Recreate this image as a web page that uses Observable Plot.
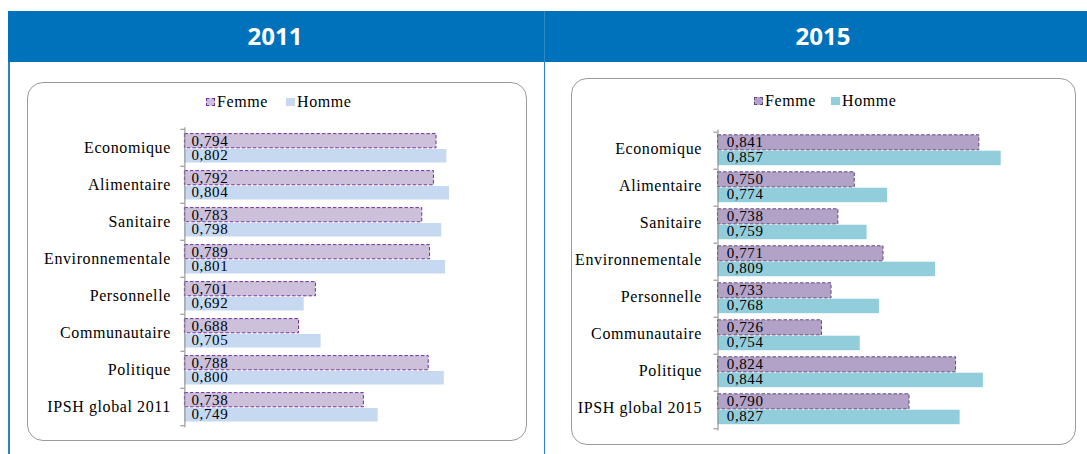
<!DOCTYPE html>
<html>
<head>
<meta charset="utf-8">
<script src="https://cdn.jsdelivr.net/npm/d3@7"></script>
<script src="https://cdn.jsdelivr.net/npm/@observablehq/plot@0.6"></script>
<style>
  html, body { margin: 0; padding: 0; background: #fff; }
  #page { position: relative; width: 1087px; height: 454px; overflow: hidden; background: #fff; }
  .abs { position: absolute; }
  .header { position: absolute; left: 8px; top: 11px; width: 1079px; height: 51px; background: #0071bb; }
  .htitle { position: absolute; top: 10px; height: 51px; line-height: 51px; width: 200px; text-align: center;
            color: #fff; font-family: "Open Sans", sans-serif; font-weight: 700; font-size: 24px; }
  .vline { position: absolute; top: 62px; width: 1.6px; height: 392px; background: #2b82c6; }
  .box { position: absolute; border: 1.2px solid #9a9a9a; border-radius: 16px; box-sizing: border-box; background: #fff; }
  .leg { position: absolute; font-family: "Liberation Serif", serif; font-size: 16px; letter-spacing: 0.6px; color: #000; line-height: 16px; white-space: nowrap; }
  .sw { position: absolute; width: 9px; height: 8px; box-sizing: border-box; }
  .chart { position: absolute; }
</style>
</head>
<body>
<div id="page">
  <div class="header"></div>
  <div class="abs" style="left:544px;top:11px;width:1px;height:51px;background:rgba(255,255,255,0.18)"></div>
  <div class="htitle" style="left:175px">2011</div>
  <div class="htitle" style="left:723px">2015</div>
  <div class="vline" style="left:8px"></div>
  <div class="vline" style="left:543.5px"></div>
  <div class="box" style="left:27px;top:82px;width:500px;height:359px"></div>
  <div class="box" style="left:571px;top:78px;width:505px;height:367px"></div>

  <div class="sw" style="left:206px;top:98px;background:#ccc0da;border:1px dashed #7030a0"></div>
  <div class="leg" style="left:217px;top:94px">Femme</div>
  <div class="sw" style="left:286px;top:98px;background:#c6d9f1"></div>
  <div class="leg" style="left:297px;top:94px">Homme</div>

  <div class="sw" style="left:754px;top:97px;background:#b3a2c7;border:1px dashed #604a7b"></div>
  <div class="leg" style="left:765px;top:93px">Femme</div>
  <div class="sw" style="left:831px;top:97px;background:#92cddc"></div>
  <div class="leg" style="left:842px;top:93px">Homme</div>

  <div id="c2011" class="chart"></div>
  <div id="c2015" class="chart"></div>
</div>
<script>
// ---- Data ----
const categories2011 = ["Economique", "Alimentaire", "Sanitaire", "Environnementale", "Personnelle", "Communautaire", "Politique", "IPSH global 2011"];
const femme2011 = [0.794, 0.792, 0.783, 0.789, 0.701, 0.688, 0.788, 0.738];
const homme2011 = [0.802, 0.804, 0.798, 0.801, 0.692, 0.705, 0.800, 0.749];

const categories2015 = ["Economique", "Alimentaire", "Sanitaire", "Environnementale", "Personnelle", "Communautaire", "Politique", "IPSH global 2015"];
const femme2015 = [0.841, 0.750, 0.738, 0.771, 0.733, 0.726, 0.824, 0.790];
const homme2015 = [0.857, 0.774, 0.759, 0.809, 0.768, 0.754, 0.844, 0.827];

const xDomain2011 = [0.6, 0.82];
const xDomain2015 = [0.65, 0.9];

const fmt = v => v.toFixed(3).replace(".", ",");
const FONT = "'Liberation Serif', 'Times New Roman', serif";

function drawChart(el, cats, femme, homme, xDomain, L) {
  const table = cats.map((c, i) => ({cat: c, femme: femme[i], homme: homme[i]}));
  const bw = (L.yBottom - L.yTop) / cats.length;
  const ppu = (L.xEnd - L.axisX) / (xDomain[1] - xDomain[0]);
  const xmin = xDomain[0];
  const tickLen = 4 / ppu;
  const svg = Plot.plot({
    width: L.svgWidth,
    height: L.svgHeight,
    marginLeft: L.axisX - L.svgLeft,
    marginRight: L.svgLeft + L.svgWidth - L.xEnd,
    marginTop: L.yTop - L.svgTop,
    marginBottom: L.svgTop + L.svgHeight - L.yBottom,
    style: `background: transparent; font-family: ${FONT}; font-size: 16px; letter-spacing: 0.6px; overflow: visible;`,
    x: {domain: xDomain, axis: null},
    y: {domain: cats, padding: 0, axis: null},
    marks: [
      Plot.barX(table, {y: "cat", x1: xmin, x2: "femme", fill: L.femmeFill, stroke: L.femmeStroke,
        strokeWidth: 1, strokeDasharray: "3.5,2", insetTop: L.fIns[0], insetBottom: L.fIns[1]}),
      Plot.barX(table, {y: "cat", x1: xmin, x2: "homme", fill: L.hommeFill,
        insetTop: L.hIns[0], insetBottom: L.hIns[1]}),
      Plot.ruleX([xmin], {stroke: "#868686", strokeWidth: 1}),
      Plot.ruleY(cats, {y: d => d, x1: xmin - tickLen, x2: xmin, dy: -bw / 2, stroke: "#868686"}),
      Plot.ruleY(cats.slice(-1), {y: d => d, x1: xmin - tickLen, x2: xmin, dy: bw / 2, stroke: "#868686"}),
      Plot.axisY({tickSize: 0, tickPadding: L.tickPad, label: null, fontSize: 16, fontFamily: FONT, fill: "#000", dy: L.catDy}),
      Plot.text(table, {x: xmin, y: "cat", text: d => fmt(d.femme), dx: L.labelDx, dy: L.fDy,
        textAnchor: "start", fill: "#000", fontSize: 15, fontFamily: FONT, style: "letter-spacing: 1.3px"}),
      Plot.text(table, {x: xmin, y: "cat", text: d => fmt(d.homme), dx: L.labelDx, dy: L.hDy,
        textAnchor: "start", fill: "#000", fontSize: 15, fontFamily: FONT, style: "letter-spacing: 1.3px"})
    ]
  });
  el.style.left = L.svgLeft + "px";
  el.style.top = L.svgTop + "px";
  el.appendChild(svg);
}

drawChart(document.getElementById("c2011"), categories2011, femme2011, homme2011, xDomain2011, {
  svgLeft: 27, svgTop: 112, svgWidth: 500, svgHeight: 326,
  axisX: 184.4, xEnd: 184.4 + 0.22 * 1297, yTop: 127.3, yBottom: 427.3,
  femmeFill: "#ccc0da", femmeStroke: "#7030a0", hommeFill: "#c6d9f1",
  fIns: [4.6, 18.2], hIns: [20, 3.5], fDy: -7.3, hDy: 7.5, labelDx: 6.6, tickPad: 14, catDy: -0.5
});

drawChart(document.getElementById("c2015"), categories2015, femme2015, homme2015, xDomain2015, {
  svgLeft: 571, svgTop: 114, svgWidth: 505, svgHeight: 326,
  axisX: 717.5, xEnd: 717.5 + 0.25 * 1368, yTop: 129.5, yBottom: 430.5,
  femmeFill: "#b3a2c7", femmeStroke: "#604a7b", hommeFill: "#92cddc",
  fIns: [2.8, 19.1], hIns: [18.7, 3.8], fDy: -9.3, hDy: 6.4, labelDx: 8.8, tickPad: 16, catDy: -2.5
});
</script>
</body>
</html>
